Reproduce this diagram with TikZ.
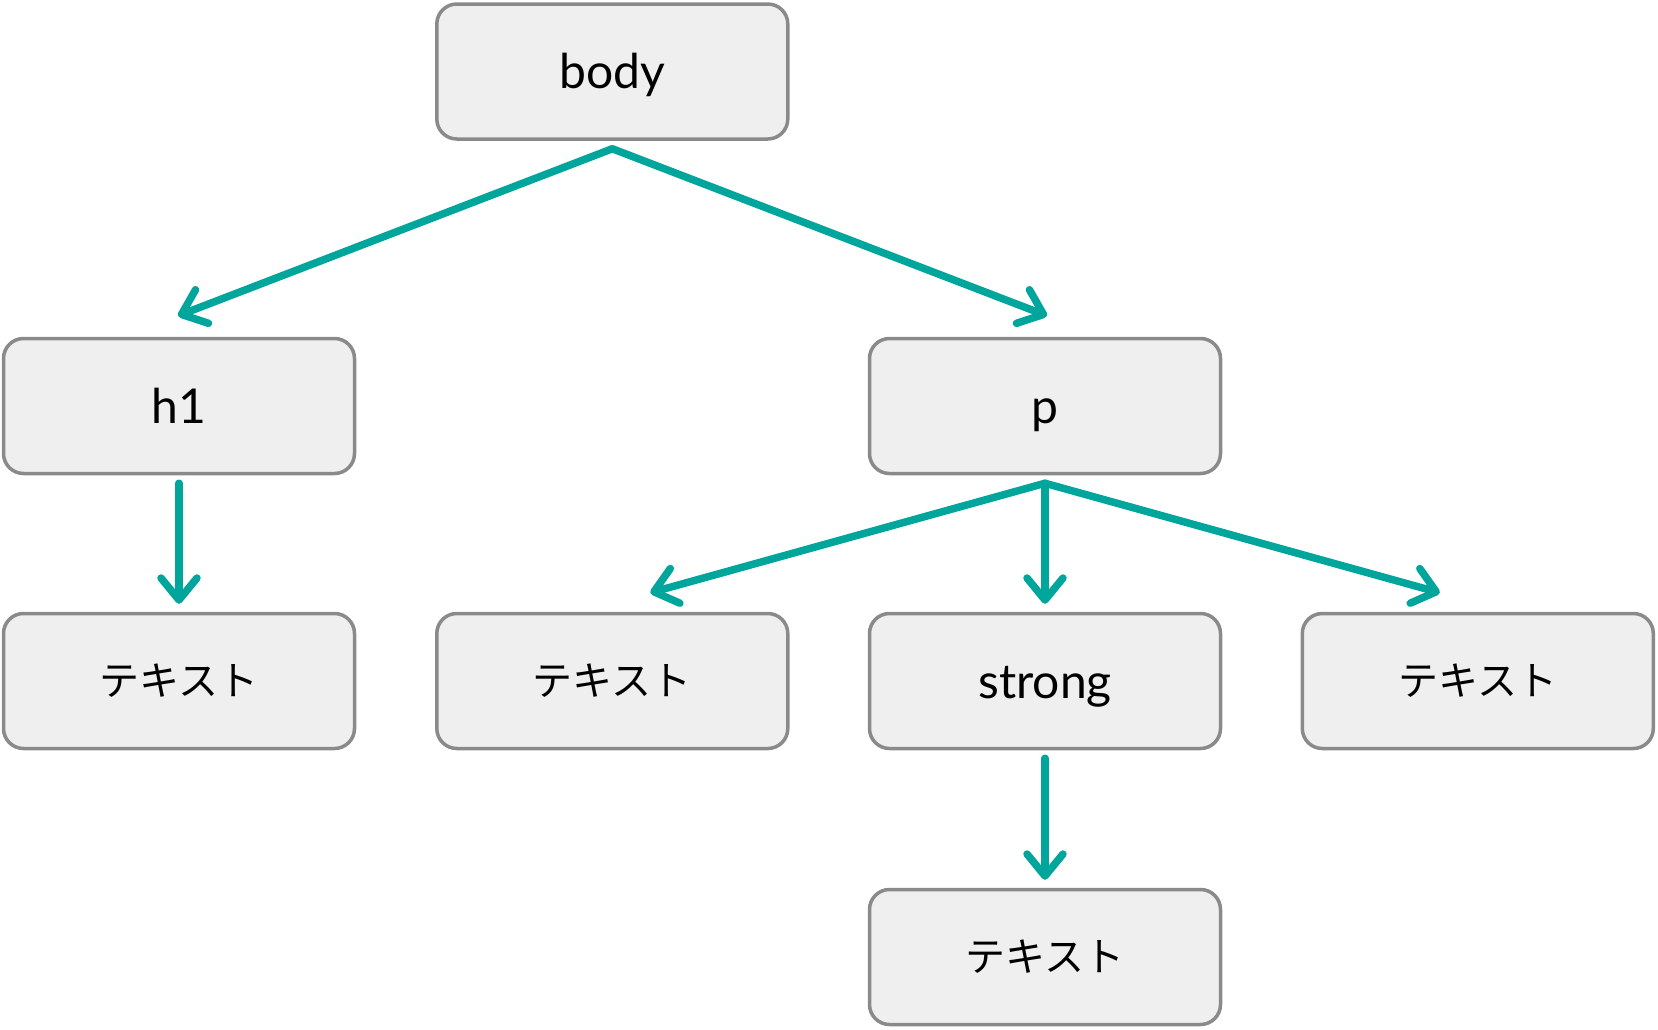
\documentclass[tikz,border=0pt]{standalone}
\usepackage{fontspec}
\setmainfont{Lato}
\newfontfamily\jp{Noto Sans CJK JP}
\usetikzlibrary{arrows.meta,calc}
\definecolor{teal1}{RGB}{0,165,155}
\definecolor{boxfill}{RGB}{239,239,239}
\definecolor{boxline}{RGB}{138,138,138}
\begin{document}
\begin{tikzpicture}[x=1pt,y=-1pt,
  box/.style={draw=boxline,fill=boxfill,line width=3.5pt,rounded corners=20pt,
    minimum width=351pt,minimum height=135pt,inner sep=0pt,
    text height=40pt,text depth=6pt,
    font=\fontsize{48}{56}\selectfont},
  jpbox/.style={box,text height=,text depth=,font=\jp\fontsize{40}{50}\selectfont},
  conn/.style={draw=teal1,line width=7.5pt,line cap=round,
    -{Straight Barb[length=22pt,width=36pt,line cap=round,line join=round]}}]
\useasboundingbox (0,0) rectangle (1658,1029);
\node[box] (body) at (612.3,71.5) {body};
\node[box] (h1) at (179,406) {h1};
\node[box] (p) at (1045,406) {p};
\node[jpbox] (t1) at (179,681) {テキスト};
\node[jpbox] (t2) at (612.3,681) {テキスト};
\node[box] (strong) at (1045,681) {strong};
\node[jpbox] (t3) at (1477.8,681) {テキスト};
\node[jpbox] (t4) at (1045,957) {テキスト};
\coordinate (bapex) at ($(body.south)+(0,8)$);
\coordinate (papex) at ($(p.south)+(0,8)$);
\draw[conn] (bapex) -- ($(h1.north)+(-1,-21)$);
\draw[conn] (bapex) -- ($(p.north)+(2,-21)$);
\draw[conn] ($(h1.south)+(0,8)$) -- ($(t1.north)+(0,-8)$);
\draw[conn] (papex) -- ($(t2.north)+(38,-19)$);
\draw[conn] (papex) -- ($(strong.north)+(0,-8)$);
\draw[conn] (papex) -- ($(t3.north)+(-38,-19)$);
\draw[conn] ($(strong.south)+(0,8)$) -- ($(t4.north)+(0,-8)$);
\end{tikzpicture}
\end{document}
